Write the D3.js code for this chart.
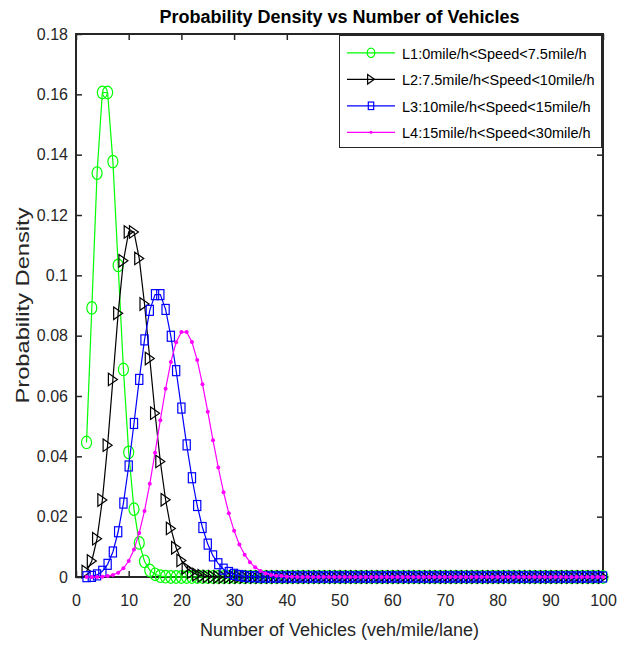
<!DOCTYPE html>
<html>
<head>
<meta charset="utf-8">
<script src="https://cdn.jsdelivr.net/npm/d3@7"></script>
<style>
  html, body { margin: 0; padding: 0; background: #fff; }
  svg { display: block; font-family: "Liberation Sans", Arial, sans-serif; }
</style>
</head>
<body>
<svg id="chart" width="630" height="646"></svg>
<script>
// ---------------- data ----------------
const xValues = [
  2, 3, 4, 5, 6, 7, 8, 9, 10, 11,
  12, 13, 14, 15, 16, 17, 18, 19, 20, 21,
  22, 23, 24, 25, 26, 27, 28, 29, 30, 31,
  32, 33, 34, 35, 36, 37, 38, 39, 40, 41,
  42, 43, 44, 45, 46, 47, 48, 49, 50, 51,
  52, 53, 54, 55, 56, 57, 58, 59, 60, 61,
  62, 63, 64, 65, 66, 67, 68, 69, 70, 71,
  72, 73, 74, 75, 76, 77, 78, 79, 80, 81,
  82, 83, 84, 85, 86, 87, 88, 89, 90, 91,
  92, 93, 94, 95, 96, 97, 98, 99, 100
];

const l1Values = [
  0.0446, 0.0892, 0.1339, 0.1606, 0.1606, 0.1377, 0.1033, 0.0688, 0.0413, 0.0225,
  0.0113, 0.0052, 0.0022, 0.0009, 0.0003, 0.0001,
  0, 0, 0, 0, 0, 0, 0, 0, 0, 0,
  0, 0, 0, 0, 0, 0, 0, 0, 0, 0,
  0, 0, 0, 0, 0, 0, 0, 0, 0, 0,
  0, 0, 0, 0, 0, 0, 0, 0, 0, 0,
  0, 0, 0, 0, 0, 0, 0, 0, 0, 0,
  0, 0, 0, 0, 0, 0, 0, 0, 0, 0,
  0, 0, 0, 0, 0, 0, 0, 0, 0, 0,
  0, 0, 0, 0, 0, 0, 0, 0, 0, 0,
  0, 0, 0
];

const l2Values = [
  0.0018, 0.0053, 0.0127, 0.0255, 0.0437, 0.0655, 0.0874, 0.1048, 0.1144, 0.1144,
  0.1056, 0.0905, 0.0724, 0.0543, 0.0383, 0.0256, 0.0161, 0.0097, 0.0055, 0.0030,
  0.0016, 0.0008, 0.0004, 0.0002, 0.0001,
  0, 0, 0, 0, 0, 0, 0, 0, 0, 0,
  0, 0, 0, 0, 0, 0, 0, 0, 0, 0,
  0, 0, 0, 0, 0, 0, 0, 0, 0, 0,
  0, 0, 0, 0, 0, 0, 0, 0, 0, 0,
  0, 0, 0, 0, 0, 0, 0, 0, 0, 0,
  0, 0, 0, 0, 0, 0, 0, 0, 0, 0,
  0, 0, 0, 0, 0, 0, 0, 0, 0, 0,
  0, 0, 0, 0
];

const l3Values = [
  0.0001, 0.0002, 0.0007, 0.0019, 0.0042, 0.0083, 0.0150, 0.0245, 0.0368, 0.0509,
  0.0655, 0.0786, 0.0884, 0.0936, 0.0936, 0.0887, 0.0798, 0.0684, 0.0560, 0.0438,
  0.0329, 0.0237, 0.0164, 0.0109, 0.0070, 0.0044, 0.0026, 0.0015, 0.0009, 0.0005,
  0.0002, 0.0001, 0.0001,
  0, 0, 0, 0, 0, 0, 0, 0, 0, 0,
  0, 0, 0, 0, 0, 0, 0, 0, 0, 0,
  0, 0, 0, 0, 0, 0, 0, 0, 0, 0,
  0, 0, 0, 0, 0, 0, 0, 0, 0, 0,
  0, 0, 0, 0, 0, 0, 0, 0, 0, 0,
  0, 0, 0, 0, 0, 0, 0, 0, 0, 0,
  0, 0, 0, 0, 0, 0
];

const l4Values = [
  0, 0, 0, 0.0001, 0.0003, 0.0007, 0.0014, 0.0029, 0.0053, 0.0091,
  0.0146, 0.0219, 0.0309, 0.0412, 0.0520, 0.0624, 0.0713, 0.0778, 0.0812, 0.0812,
  0.0779, 0.0719, 0.0639, 0.0548, 0.0453, 0.0363, 0.0281, 0.0211, 0.0153, 0.0108,
  0.0074, 0.0049, 0.0032, 0.0020, 0.0012, 0.0007, 0.0004, 0.0003, 0.0001, 0.0001,
  0, 0, 0, 0, 0, 0, 0, 0, 0, 0,
  0, 0, 0, 0, 0, 0, 0, 0, 0, 0,
  0, 0, 0, 0, 0, 0, 0, 0, 0, 0,
  0, 0, 0, 0, 0, 0, 0, 0, 0, 0,
  0, 0, 0, 0, 0, 0, 0, 0, 0, 0,
  0, 0, 0, 0, 0, 0, 0, 0, 0
];

const seriesNames = [
  "L1:0mile/h<Speed<7.5mile/h",
  "L2:7.5mile/h<Speed<10mile/h",
  "L3:10mile/h<Speed<15mile/h",
  "L4:15mile/h<Speed<30mile/h"
];
const xTicks = [0, 10, 20, 30, 40, 50, 60, 70, 80, 90, 100];
const yTicks = [0, 0.02, 0.04, 0.06, 0.08, 0.1, 0.12, 0.14, 0.16, 0.18];
const yTickLabels = ["0", "0.02", "0.04", "0.06", "0.08", "0.1", "0.12", "0.14", "0.16", "0.18"];
const titleText = "Probability Density vs Number of Vehicles";
const xLabelText = "Number of Vehicles (veh/mile/lane)";
const yLabelText = "Probability Density";

// ---------------- layout ----------------
const svg = d3.select("#chart");
const L = 76, R = 603, T = 34, B = 577;
const ink = "#262626";

const x = d3.scaleLinear().domain([0, 100]).range([L, R]);
const y = d3.scaleLinear().domain([0, 0.18]).range([B, T]);

// axes
const gx = svg.append("g").attr("transform", `translate(0,${B})`)
  .call(d3.axisBottom(x).tickValues(xTicks).tickFormat(d3.format("d"))
    .tickSizeInner(-6).tickSizeOuter(0).tickPadding(18));
const gxTop = svg.append("g").attr("transform", `translate(0,${T})`)
  .call(d3.axisTop(x).tickValues(xTicks).tickFormat("")
    .tickSizeInner(-6).tickSizeOuter(0));
const gy = svg.append("g").attr("transform", `translate(${L},0)`)
  .call(d3.axisLeft(y).tickValues(yTicks).tickFormat((d, i) => yTickLabels[i])
    .tickSizeInner(-6).tickSizeOuter(0).tickPadding(8));
const gyR = svg.append("g").attr("transform", `translate(${R},0)`)
  .call(d3.axisRight(y).tickValues(yTicks).tickFormat("")
    .tickSizeInner(-6).tickSizeOuter(0));

[gx, gxTop, gy, gyR].forEach(g => {
  g.select(".domain").remove();
  g.selectAll(".tick line").attr("stroke", ink).attr("stroke-width", 1.5);
  g.selectAll(".tick text").attr("fill", ink).attr("font-size", 16)
    .attr("font-family", "'Liberation Sans', Arial, sans-serif");
});

svg.append("rect").attr("x", L).attr("y", T).attr("width", R - L).attr("height", B - T)
  .attr("fill", "none").attr("stroke", ink).attr("stroke-width", 2);

// ---------------- series ----------------
const tri = (w, h) => `M${-w/2},${-h/2}L${w/2},0L${-w/2},${h/2}Z`;
const series = [
  { name: seriesNames[0], values: l1Values, color: "#00ff00", marker: "circle" },
  { name: seriesNames[1], values: l2Values, color: "#000000", marker: "triangle" },
  { name: seriesNames[2], values: l3Values, color: "#0000ff", marker: "square" },
  { name: seriesNames[3], values: l4Values, color: "#ff00ff", marker: "dot" }
];

function drawMarker(g, type, color, scale) {
  const s = scale;
  if (type === "circle") {
    g.append("ellipse").attr("rx", 5 * s).attr("ry", 6.3 * s)
      .attr("fill", "none").attr("stroke", color).attr("stroke-width", 1.2);
  } else if (type === "triangle") {
    g.append("path").attr("d", tri(9 * s, 12.5 * s))
      .attr("fill", "none").attr("stroke", color).attr("stroke-width", 1.2);
  } else if (type === "square") {
    g.append("rect").attr("x", -3.6 * s).attr("y", -5 * s).attr("width", 7.2 * s).attr("height", 10 * s)
      .attr("fill", "none").attr("stroke", color).attr("stroke-width", 1.2);
  } else {
    g.append("circle").attr("r", 2 * s).attr("fill", color);
  }
}

const line = d3.line().x(d => x(d[0])).y(d => y(d[1]));
const plot = svg.append("g");
series.forEach(s => {
  const pts = d3.zip(xValues, s.values);
  const g = plot.append("g");
  g.append("path").datum(pts).attr("d", line)
    .attr("fill", "none").attr("stroke", s.color).attr("stroke-width", 1.2);
  g.selectAll("g.m").data(pts).join("g").attr("class", "m")
    .attr("transform", d => `translate(${x(d[0])},${y(d[1])})`)
    .each(function () { drawMarker(d3.select(this), s.marker, s.color, 1); });
});

// ---------------- legend ----------------
const lg = svg.append("g");
lg.append("rect").attr("x", 339.5).attr("y", 35.5).attr("width", 262).attr("height", 112)
  .attr("fill", "#fff").attr("stroke", ink).attr("stroke-width", 1);
const rowY = [52.8, 79.3, 105.8, 132.3];
series.forEach((s, i) => {
  const ry = rowY[i];
  lg.append("line").attr("x1", 347).attr("x2", 395).attr("y1", ry).attr("y2", ry)
    .attr("stroke", s.color).attr("stroke-width", 1.2);
  const mg = lg.append("g").attr("transform", `translate(371,${ry})`);
  drawMarker(mg, s.marker, s.color, 0.75);
  lg.append("text").attr("x", 402).attr("y", ry + 6)
    .attr("font-size", 14.5).attr("fill", "#000").text(s.name);
});

// ---------------- titles ----------------
svg.append("text").attr("x", (L + R) / 2).attr("y", 23)
  .attr("text-anchor", "middle").attr("font-size", 18).attr("font-weight", "bold")
  .attr("fill", "#000").text(titleText);

svg.append("text").attr("x", (L + R) / 2).attr("y", 636)
  .attr("text-anchor", "middle").attr("font-size", 18).attr("fill", ink).text(xLabelText);

svg.append("text")
  .attr("transform", `translate(29,${(T + B) / 2}) rotate(-90)`)
  .attr("text-anchor", "middle").attr("font-size", 18.5).attr("fill", ink)
  .attr("textLength", 196).attr("lengthAdjust", "spacingAndGlyphs")
  .text(yLabelText);
</script>
</body>
</html>
